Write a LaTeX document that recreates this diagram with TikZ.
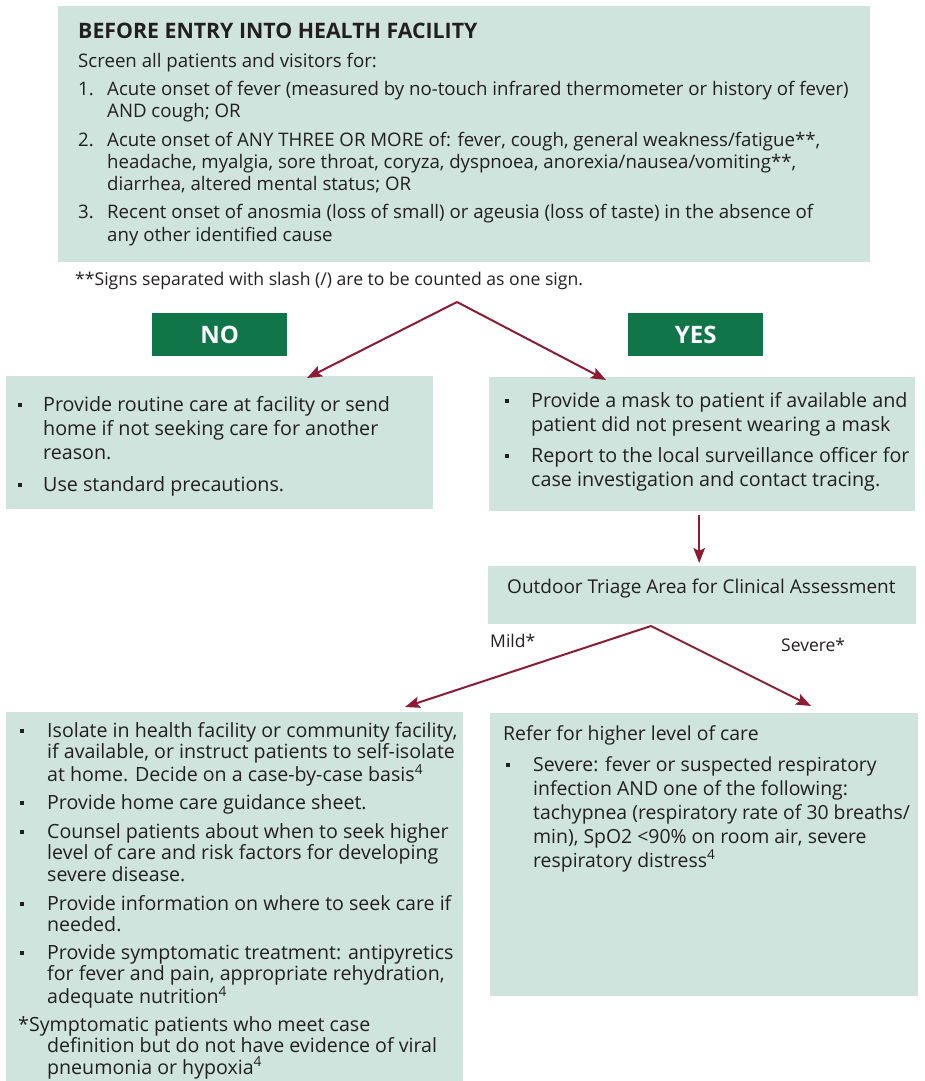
\documentclass[tikz,border=0pt]{standalone}
\usepackage{fontspec}
\setmainfont{Open Sans}
\usetikzlibrary{arrows.meta}
\definecolor{mint}{RGB}{207,228,220}
\definecolor{dgreen}{RGB}{16,118,74}
\definecolor{maroon}{RGB}{140,28,52}
\definecolor{ink}{RGB}{35,31,32}
\newcommand\sqbul{\rule[4pt]{4pt}{4pt}}
\newcommand\bpar[3]{\begin{minipage}[t]{#1pt}\noindent\llap{\makebox[#2pt][l]{\sqbul}}#3\end{minipage}}
\newcommand\npar[3]{\begin{minipage}[t]{#1pt}\noindent\llap{\makebox[29pt][l]{#2}}#3\end{minipage}}
\newcommand\hpar[3]{\begin{minipage}[t]{#1pt}\hangindent=#2pt\hangafter=1\noindent#3\end{minipage}}
\begin{document}
\begin{tikzpicture}[x=1pt,y=-1pt,
  box/.style={fill=mint, draw=none, inner sep=0, anchor=north west},
  gbox/.style={fill=dgreen, text=white, inner sep=0, anchor=north west, font=\fontsize{24}{24}\selectfont\bfseries},
  txt/.style={anchor=base west, inner sep=0, text=ink, font=\fontsize{19.7}{24}\selectfont},
  rtxt/.style={anchor=base west, inner sep=0, text=ink, font=\fontsize{19.4}{24}\selectfont},
  stxt/.style={anchor=base west, inner sep=0, text=ink, font=\fontsize{19.6}{21.5}\selectfont},
  lbl/.style={anchor=base west, inner sep=0, text=ink, font=\fontsize{17.5}{21}\selectfont},
  ttxt/.style={anchor=base west, inner sep=0, text=ink, font=\fontsize{18.65}{22}\selectfont},
  ftxt/.style={anchor=base west, inner sep=0, text=ink, font=\fontsize{17.6}{22}\selectfont},
  ttl/.style={anchor=base west, inner sep=0, text=ink, font=\fontsize{21.3}{22}\selectfont\bfseries},
  arr/.style={draw=maroon, line width=2pt, -{Stealth[length=15pt,width=11.5pt,inset=3pt]}}]
\useasboundingbox (0,0) rectangle (924,1081);

% top box
\node[box, minimum width=812pt, minimum height=256pt] (top) at (58,6) {};
\node[ttl] (title) at (78,38) {BEFORE ENTRY INTO HEALTH FACILITY};
\node[ttxt] (screen) at (78,67) {Screen all patients and visitors for:};
\node[ttxt] (i1) at (107,95) {\npar{800}{1.}{Acute onset of fever (measured by no-touch infrared thermometer or history of fever)\\AND cough; OR}};
\node[ttxt] (i2) at (107,146) {\npar{800}{2.}{Acute onset of ANY THREE OR MORE of: fever, cough, general weakness/fatigue**,\\headache, myalgia, sore throat, coryza, dyspnoea, anorexia/nausea/vomiting**,\\diarrhea, altered mental status; OR}};
\node[ttxt] (i3) at (107,218) {\npar{800}{3.}{Recent onset of anosmia (loss of small) or ageusia (loss of taste) in the absence of\\[1pt]any other identified cause}};
\node[ftxt] (foot) at (75,285) {**Signs separated with slash (/) are to be counted as one sign.};

% decision
\coordinate (split1) at (457,302);
\node[gbox, minimum width=135pt, minimum height=43pt] (no) at (152,313) {NO};
\node[gbox, minimum width=135pt, minimum height=43pt] (yes) at (628,313) {YES};

\node[box, minimum width=427pt, minimum height=133pt] (nobox) at (6,376) {};
\node[box, minimum width=426pt, minimum height=134pt] (yesbox) at (489,377) {};
\draw[arr] (split1) -- ([xshift=301pt,yshift=-2pt]nobox.north west);
\draw[arr] (split1) -- ([xshift=117pt,yshift=-3pt]yesbox.north west);

\node[txt] (n1) at (43,411) {\bpar{420}{25}{Provide routine care at facility or send\\home if not seeking care for another\\reason.}};
\node[txt] (n2) at (43,491) {\bpar{420}{25}{Use standard precautions.}};
\node[txt] (y1) at (531,407) {\bpar{420}{26}{Provide a mask to patient if available and\\patient did not present wearing a mask}};
\node[txt] (y2) at (531,462) {\bpar{420}{26}{Report to the local surveillance officer for\\case investigation and contact tracing.}};

% triage
\node[box, minimum width=428pt, minimum height=58pt] (triage) at (488,566) {};
\node[anchor=base west, inner sep=0, text=ink, font=\fontsize{19}{24}\selectfont] (triagetxt) at (507,593) {Outdoor Triage Area for Clinical Assessment};
\draw[arr] ([shift={(-3,4)}]yesbox.south) -- ([shift={(-3,-3)}]triage.north);

\coordinate (split2) at (651,626);
\node[lbl] (mild) at (490,647) {Mild*};
\node[lbl] (severe) at (781,651) {Severe*};

\node[box, minimum width=457pt, minimum height=370pt] (mildbox) at (6,712) {};
\node[box, minimum width=428pt, minimum height=283pt] (sevbox) at (490,713) {};
\draw[arr] (split2) -- ([xshift=399pt,yshift=5pt]mildbox.north west);
\draw[arr] (split2) -- ([xshift=321pt,yshift=7pt]sevbox.north west);

\node[stxt] (m1) at (47,737) {\bpar{460}{27}{Isolate in health facility or community facility,\\if available, or instruct patients to self-isolate\\at home. Decide on a case-by-case basis\textsuperscript{4}}};
\node[stxt] (m2) at (47,809) {\bpar{460}{27}{Provide home care guidance sheet.}};
\node[stxt] (m3) at (47,838) {\bpar{460}{27}{Counsel patients about when to seek higher\\level of care and risk factors for developing\\severe disease.}};
\node[stxt] (m4) at (47,910) {\bpar{460}{27}{Provide information on where to seek care if\\needed.}};
\node[stxt] (m5) at (47,959) {\bpar{460}{27}{Provide symptomatic treatment: antipyretics\\for fever and pain, appropriate rehydration,\\adequate nutrition\textsuperscript{4}}};
\node[stxt] (m6) at (18,1031) {\hpar{480}{29}{*Symptomatic patients who meet case\\definition but do not have evidence of viral\\pneumonia or hypoxia\textsuperscript{4}}};

\node[rtxt] (s0) at (503,740) {Refer for higher level of care};
\node[rtxt] (s1) at (533,771) {\bpar{460}{27}{Severe: fever or suspected respiratory\\infection AND one of the following:\\tachypnea (respiratory rate of 30 breaths/\\min), SpO2 <90\% on room air, severe\\respiratory distress\textsuperscript{4}}};
\end{tikzpicture}
\end{document}
